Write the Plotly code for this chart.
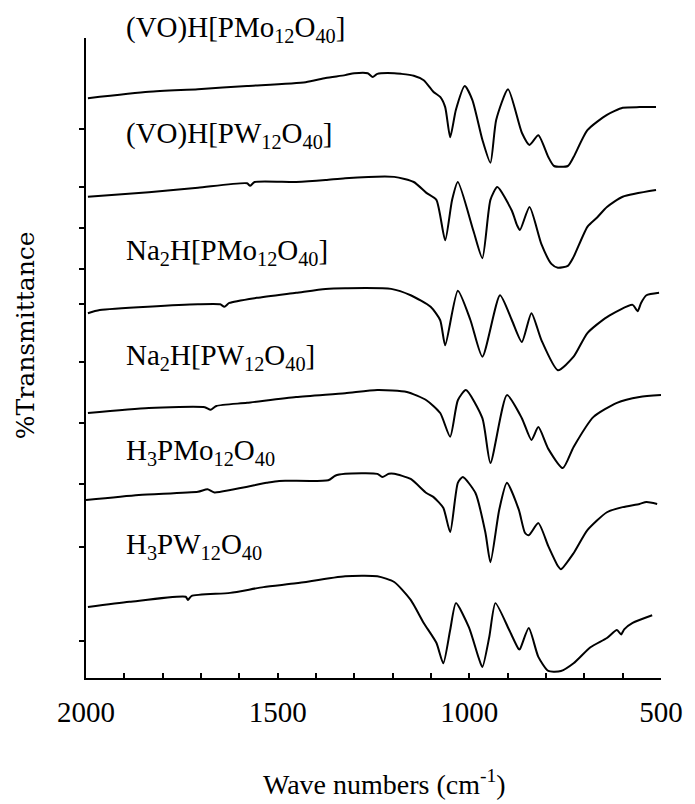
import plotly.graph_objects as go

# ---- data (wavenumber cm-1, stacked %T in arbitrary units) ----
labels = [
    "(VO)H[PMo<sub>12</sub>O<sub>40</sub>]",
    "(VO)H[PW<sub>12</sub>O<sub>40</sub>]",
    "Na<sub>2</sub>H[PMo<sub>12</sub>O<sub>40</sub>]",
    "Na<sub>2</sub>H[PW<sub>12</sub>O<sub>40</sub>]",
    "H<sub>3</sub>PMo<sub>12</sub>O<sub>40</sub>",
    "H<sub>3</sub>PW<sub>12</sub>O<sub>40</sub>",
]
label_y = [101.4, 84.8, 66.6, 50.2, 35.3, 20.6]
label_x = 1900

wn_1 = [1995, 1836, 1708, 1580, 1427, 1375, 1324, 1300, 1265, 1252, 1240, 1196, 1178, 1145, 1119, 1094, 1076, 1063, 1050, 1035, 1012, 992, 966, 945, 930, 899, 863, 843, 820, 794, 779, 743, 728, 692, 641, 600, 556, 513]
t_1 = [90.6, 91.6, 92.0, 92.5, 93.1, 93.75, 94.2, 94.5, 94.5, 93.9, 94.4, 94.5, 94.4, 94.1, 93.4, 91.6, 90.8, 89.2, 84.5, 88.8, 92.5, 90.3, 84.1, 80.5, 87.2, 92.0, 85.2, 83.3, 84.8, 81.4, 80.0, 80.0, 81.4, 85.6, 88.0, 89.1, 89.2, 89.2]

wn_2 = [1995, 1836, 1708, 1580, 1572, 1560, 1452, 1375, 1324, 1196, 1145, 1112, 1086, 1063, 1045, 1030, 989, 966, 945, 927, 889, 876, 868, 843, 812, 786, 769, 743, 728, 692, 666, 641, 600, 513]
t_2 = [75.2, 75.9, 76.6, 77.3, 76.9, 77.5, 77.5, 77.8, 78.1, 78.3, 77.5, 75.8, 74.7, 68.4, 74.7, 77.5, 69.8, 65.6, 74.7, 76.7, 73.0, 70.8, 70.0, 73.6, 67.8, 64.7, 64.1, 64.4, 65.8, 70.5, 72.0, 73.6, 75.2, 76.25]

wn_3 = [1995, 1964, 1708, 1650, 1639, 1626, 1555, 1452, 1375, 1324, 1204, 1153, 1101, 1076, 1063, 1030, 997, 966, 920, 889, 863, 838, 812, 769, 728, 692, 641, 574, 561, 552, 538, 505]
t_3 = [57.0, 57.5, 58.4, 58.4, 58.0, 58.6, 59.4, 60.2, 60.8, 60.9, 60.8, 59.8, 58.0, 55.9, 52.0, 60.5, 55.9, 50.2, 59.8, 55.9, 52.5, 57.0, 52.8, 48.1, 50.2, 53.9, 56.4, 58.3, 57.3, 58.6, 59.8, 60.2]

wn_4 = [1995, 1836, 1690, 1675, 1660, 1580, 1452, 1324, 1240, 1163, 1112, 1076, 1050, 1030, 1009, 966, 945, 902, 863, 838, 820, 794, 756, 728, 676, 615, 556, 500]
t_4 = [41.4, 42.2, 42.3, 41.9, 42.5, 43.0, 43.9, 44.5, 45.0, 44.7, 43.4, 41.4, 37.7, 43.4, 45.0, 40.6, 33.6, 44.2, 40.6, 37.2, 39.2, 35.8, 32.8, 36.1, 40.8, 43.0, 43.9, 44.2]

wn_5 = [2000, 1862, 1708, 1683, 1665, 1529, 1496, 1368, 1350, 1324, 1240, 1227, 1210, 1196, 1153, 1112, 1094, 1068, 1050, 1030, 1017, 984, 958, 945, 922, 902, 871, 855, 845, 820, 794, 769, 761, 728, 692, 641, 600, 556, 538, 510]
t_5 = [27.8, 28.6, 29.1, 29.5, 29.0, 30.5, 30.8, 30.9, 31.6, 31.9, 31.9, 31.4, 31.9, 31.9, 31.1, 28.9, 28.3, 26.6, 22.8, 30.5, 31.4, 28.9, 22.7, 18.1, 26.3, 30.5, 26.3, 22.7, 22.3, 24.2, 20.6, 17.5, 17.0, 19.5, 23.1, 25.9, 26.7, 27.2, 27.5, 27.2]

wn_6 = [1995, 1887, 1740, 1734, 1725, 1624, 1537, 1452, 1324, 1240, 1196, 1153, 1119, 1086, 1068, 1050, 1035, 1001, 976, 966, 948, 932, 896, 871, 868, 845, 820, 794, 761, 728, 684, 641, 615, 604, 596, 574, 523]
t_6 = [11.1, 11.9, 12.7, 12.2, 12.8, 13.3, 14.2, 14.8, 15.9, 15.9, 15.0, 12.2, 8.6, 5.5, 2.3, 7.5, 11.7, 7.9, 3.2, 1.7, 6.4, 11.7, 7.5, 4.5, 4.5, 7.8, 3.3, 1.1, 1.1, 2.3, 4.8, 6.25, 7.5, 6.8, 7.6, 8.6, 9.8]

series_wn = [wn_1, wn_2, wn_3, wn_4, wn_5, wn_6]
series_t = [t_1, t_2, t_3, t_4, t_5, t_6]

x_tick_vals = [2000, 1500, 1000, 500]
y_tick_vals = [85.8, 76.7, 70.3, 63.9, 58.4, 49.4, 39.8, 30.3, 20.5, 5.8]
y_range = [0, 100]

fig = go.Figure()
for wn, t in zip(series_wn, series_t):
    fig.add_trace(go.Scatter(x=wn, y=t, mode="lines",
                             line=dict(color="black", width=2, shape="spline", smoothing=0.6),
                             showlegend=False, hoverinfo="skip"))

for lab, ly in zip(labels, label_y):
    fig.add_annotation(x=label_x, y=(ly - y_range[0]) / (y_range[1] - y_range[0]),
                       xref="x", yref="paper", text=lab, showarrow=False,
                       xanchor="left", yanchor="middle",
                       font=dict(family="Liberation Serif", size=29, color="black"))

fig.add_annotation(x=0.519, y=-0.194, xref="paper", yref="paper",
                   text="Wave numbers (cm<sup>-1</sup>)", showarrow=False,
                   xanchor="center", yanchor="bottom",
                   font=dict(family="Liberation Serif", size=28, color="black"))
fig.add_annotation(x=-0.104, y=0.536, xref="paper", yref="paper",
                   text="%Transmittance", showarrow=False, textangle=-90,
                   xanchor="center", yanchor="middle",
                   font=dict(family="DejaVu Serif", size=25, color="black"))

fig.update_layout(
    width=695, height=804,
    margin=dict(l=86, r=23, t=38, b=126),
    paper_bgcolor="white", plot_bgcolor="white",
    xaxis=dict(range=[2000, 500], tickvals=x_tick_vals,
               ticks="inside", ticklen=5, tickwidth=2, tickcolor="black",
               minor=dict(dtick=100, tick0=500, ticks="inside", ticklen=5, tickwidth=2, tickcolor="black"),
               showline=True, linecolor="black", linewidth=2, showgrid=False, zeroline=False,
               tickfont=dict(family="Liberation Serif", size=29, color="black"),
               ticklabelstandoff=7),
    yaxis=dict(range=y_range, tickvals=y_tick_vals, showticklabels=False,
               ticks="outside", ticklen=5, tickwidth=2, tickcolor="black",
               showline=True, linecolor="black", linewidth=2, showgrid=False, zeroline=False),
)

fig.write_html("out.html")
